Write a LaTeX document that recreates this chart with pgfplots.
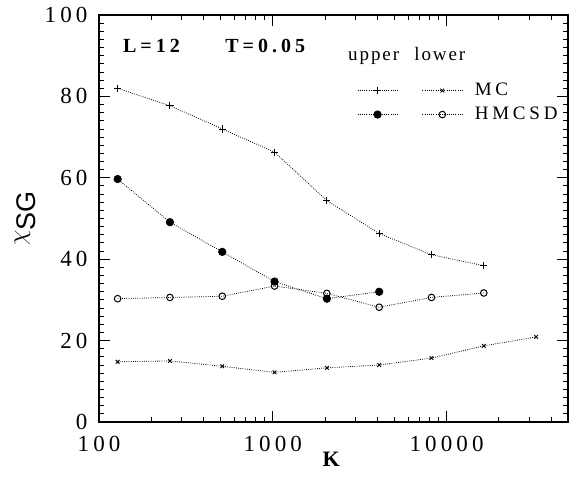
\documentclass[border=0pt]{standalone}
\usepackage{pgfplots}
\pgfplotsset{compat=1.18}
\usepackage{fontspec}
\setmainfont{Liberation Serif}[LetterSpace=20]
\setsansfont{Liberation Sans}
\newfontfamily\tickfont{Liberation Serif}[LetterSpace=18]
\newfontfamily\keyfont{Liberation Serif}[LetterSpace=10]

\newcommand{\lbl}{\fontsize{19}{22}\selectfont}

\begin{document}
\begin{tikzpicture}
\begin{axis}[
  scale only axis, width=469pt, height=407pt,
  xmode=log, xmin=100, xmax=50000, ymin=0, ymax=100,
  xtick={100,1000,10000}, xticklabels={100,1000,10000},
  minor xtick={200,300,400,500,600,700,800,900,2000,3000,4000,5000,6000,7000,8000,9000,20000,30000,40000},
  ytick={0,20,40,60,80,100}, yticklabels={0,20,40,60,80,100},
  minor y tick num=9,
  tick align=inside,
  major tick length=11pt, minor tick length=5pt,
  axis line style={line width=1.2pt},
  every tick/.style={black, line width=0.9pt},
  tick label style={font=\tickfont\fontsize{23}{24}\selectfont},
  xticklabel style={yshift=-11pt},
  yticklabel style={xshift=-8pt},
  xlabel={\textbf{K}}, xlabel style={font=\fontsize{22}{22}\selectfont, yshift=7pt},
  ylabel={$\chi_{\textsf{SG}}$}, ylabel style={font=\fontsize{27}{27}\selectfont, yshift=2pt},
  every axis plot/.append style={black, line width=0.8pt, dash pattern=on 0.8pt off 1.4pt},
  legend columns=2,
  legend cell align=left,
  legend image code/.code={\draw[mark repeat=2, mark phase=2, #1] plot coordinates {(0pt,0pt) (20pt,0pt) (40pt,0pt)};},
  legend style={draw=none, fill=none, at={(rel axis cs:0.55,0.837)}, anchor=north west,
    font=\lbl, row sep=6pt, inner sep=0pt,
    nodes={inner xsep=12pt, inner ysep=0pt, text height=14pt, text depth=4pt}},
]
% MC, upper bound
\addplot[mark=+, mark size=3.6pt, mark options={solid, line width=0.9pt}] coordinates {
  (128,82.0) (256,77.7) (512,72.0) (1024,66.3) (2048,54.4) (4096,46.3) (8192,41.1) (16384,38.4)};
\addlegendentry{\strut}
% MC, lower bound
\addplot[mark=x, mark size=2.6pt, mark options={solid, line width=0.9pt}] coordinates {
  (128,14.8) (256,15.0) (512,13.7) (1024,12.2) (2048,13.3) (4096,14.0) (8192,15.7) (16384,18.7) (32768,20.9)};
\addlegendentry{MC}
% HMCSD, upper bound
\addplot[mark=*, mark size=3.7pt, mark options={solid, fill=black}] coordinates {
  (128,59.7) (256,49.1) (512,41.8) (1024,34.5) (2048,30.3) (4096,32.0)};
\addlegendentry{\strut}
% HMCSD, lower bound
\addplot[mark=o, mark size=3.3pt, mark options={solid, fill=white, line width=1pt}] coordinates {
  (128,30.3) (256,30.6) (512,30.9) (1024,33.4) (2048,31.6) (4096,28.2) (8192,30.6) (16384,31.7)};
\addlegendentry{HMCSD}

\node[font=\keyfont\lbl, anchor=base west, inner sep=0pt] at (rel axis cs:0.531,0.889) {upper};
\node[font=\keyfont\lbl, anchor=base west, inner sep=0pt] at (rel axis cs:0.672,0.889) {lower};
\node[font=\fontsize{20}{22}\selectfont\bfseries, anchor=base west, inner sep=0pt] at (rel axis cs:0.051,0.907) {L=12};
\node[font=\fontsize{20}{22}\selectfont\bfseries, anchor=base west, inner sep=0pt] at (rel axis cs:0.269,0.907) {T=0.05};
\end{axis}
\path (current axis.south west) ++(-99pt,-57pt) rectangle ++(571pt,479pt);
\end{tikzpicture}
\end{document}
